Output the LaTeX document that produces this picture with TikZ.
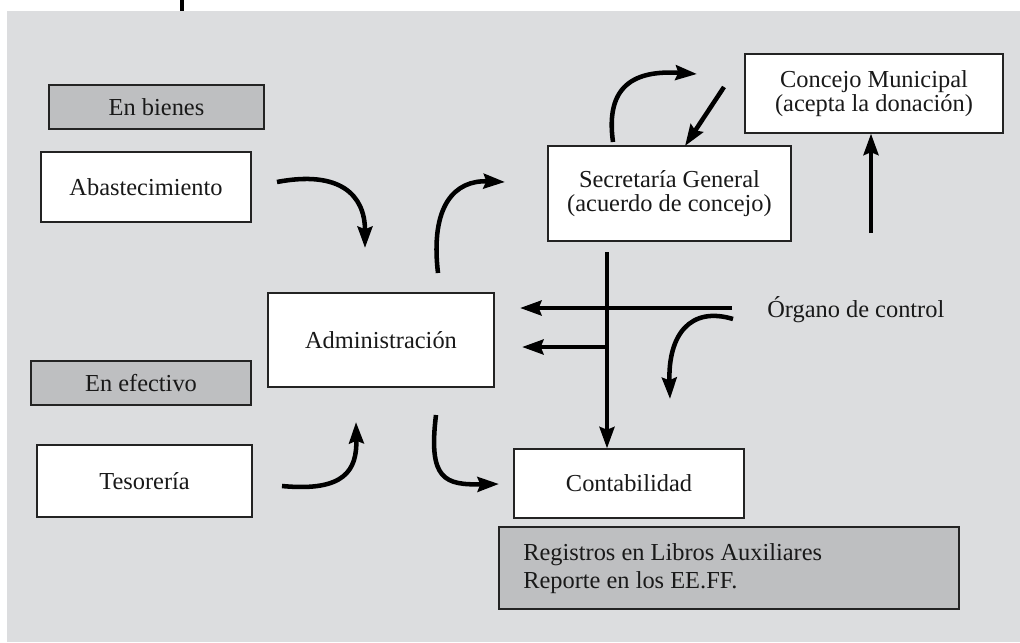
\documentclass[tikz,border=0pt]{standalone}
\usepackage{fontspec}
\setmainfont{Liberation Serif}
\usetikzlibrary{arrows.meta,calc}
\definecolor{bgc}{RGB}{220,221,223}
\definecolor{boxg}{RGB}{190,191,193}
\definecolor{edgec}{RGB}{35,35,35}
\begin{document}
\begin{tikzpicture}[x=0.75pt,y=-0.75pt,
  txt/.style={font=\fontsize{18.3}{17.5}\selectfont, align=center, text=black!90},
  wbox/.style={txt,draw=edgec,line width=0.8pt,fill=white,inner sep=0pt},
  gbox/.style={txt,draw=edgec,line width=0.8pt,fill=boxg,inner sep=0pt},
  arr/.style={line width=3.4pt,-{Stealth[length=16pt,width=11pt,inset=2pt]}},
  ]
\useasboundingbox (0,0) rectangle (1020,642);
\fill[bgc] (7,11) rectangle (1020,642);
\coordinate (tl1) at (182,0);
\coordinate (tl2) at (182,11);
\draw[line width=3pt] (tl1) -- (tl2);

% boxes
\node[gbox, minimum width=161.25pt, minimum height=33pt] (bienes) at (156.5,107) {En bienes};
\node[wbox, minimum width=157.5pt, minimum height=52.5pt] (abas) at (146,187) {Abastecimiento};
\node[wbox, minimum width=169.5pt, minimum height=70.5pt] (admin) at (381,340) {Administración};
\node[gbox, minimum width=165pt, minimum height=33pt] (efectivo) at (141,383) {En efectivo};
\node[wbox, minimum width=161.25pt, minimum height=54pt] (teso) at (144.5,481) {Tesorería};
\node[wbox, minimum width=182.25pt, minimum height=71.25pt] (secre) at (669.5,193.5) {Secretaría General\\(acuerdo de concejo)};
\node[wbox, minimum width=193.5pt, minimum height=59.25pt] (concejo) at (874,93.5) {Concejo Municipal\\(acepta la donación)};
\node[wbox, minimum width=172.5pt, minimum height=51.75pt] (conta) at (629,483.5) {Contabilidad};
\node[gbox, minimum width=345pt, minimum height=61.5pt] (regbox) at (729,568) {};
\node[txt, font=\fontsize{18.3}{21}\selectfont, align=left, anchor=west, inner sep=0pt] (regtxt) at (523,569) {Registros en Libros Auxiliares\\Reporte en los EE.FF.};
\node[txt, anchor=west, inner sep=0pt] (organo) at (767,310) {Órgano de control};

% free ends
\coordinate (a1s) at (277,182);
\coordinate (a1e) at (365,248);
\coordinate (a2s) at (438,273);
\coordinate (a2e) at (505,182);
\coordinate (a3s) at (613,142);
\coordinate (a3e) at (697,74);
\coordinate (a4s) at (724,87);
\coordinate (a4e) at (685,146);
\coordinate (a5s) at (871,233);
\coordinate (vtop) at (607,252);
\coordinate (h1s) at (732,308);
\coordinate (h1e) at (520,308);
\coordinate (h2s) at (607,347);
\coordinate (h2e) at (522,347);
\coordinate (a9s) at (733,319);
\coordinate (a9e) at (670,399);
\coordinate (a10s) at (282,486);
\coordinate (a10e) at (356,422);
\coordinate (a11s) at (436,415);
\coordinate (a11e) at (499,484);

% connectors
\draw[arr] (a1s) .. controls (340,170) and (365,195) .. (a1e);
\draw[arr] (a2s) .. controls (430,205) and (455,180) .. (a2e);
\draw[arr] (a3s) .. controls (605,85) and (635,70) .. (a3e);
\draw[arr] (a4s) -- (a4e);
\draw[arr] (a5s) -- (a5s |- concejo.south);
\draw[arr] (vtop) -- (vtop |- conta.north);
\draw[arr] (h1s) -- (h1e);
\draw[arr] (h2s) -- (h2e);
\draw[arr] (a9s) .. controls (690,306) and (668,335) .. (a9e);
\draw[arr] (a10s) .. controls (345,492) and (357,470) .. (a10e);
\draw[arr] (a11s) .. controls (428,480) and (445,485) .. (a11e);
\end{tikzpicture}
\end{document}
